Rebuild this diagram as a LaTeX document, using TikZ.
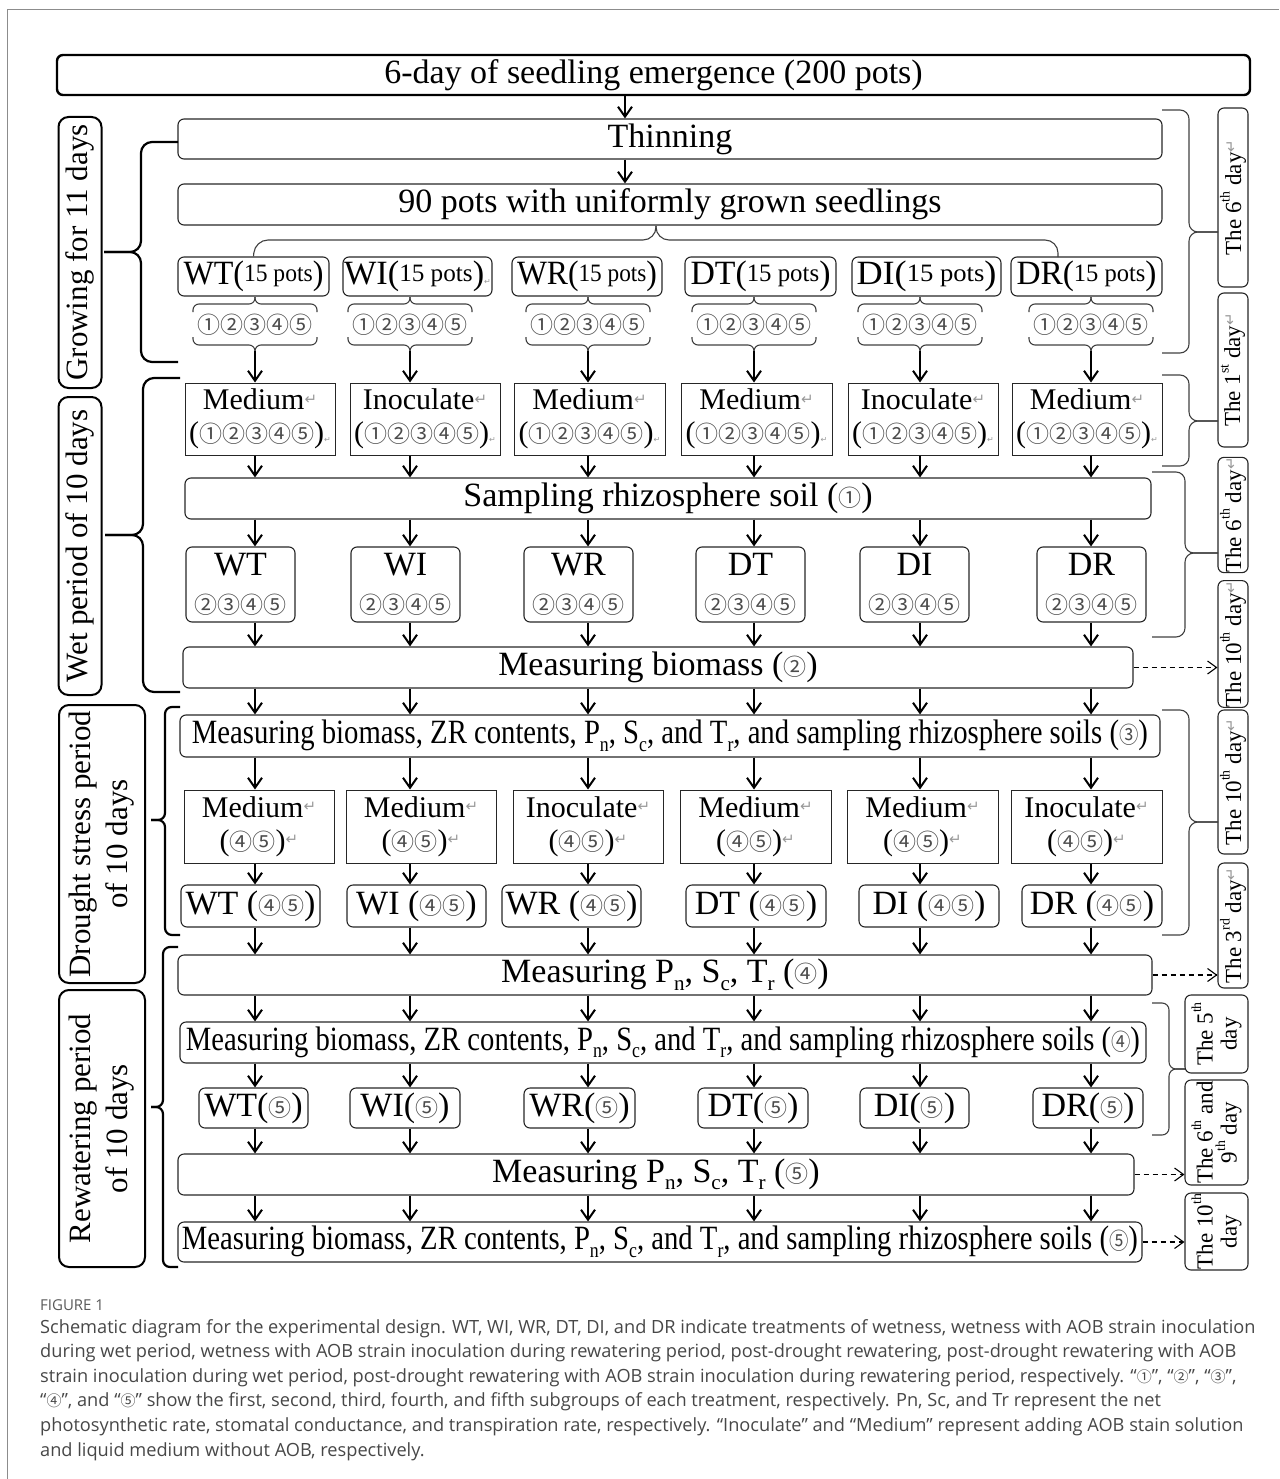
\documentclass[tikz,border=0pt]{standalone}
\usepackage{graphicx}
\usepackage{fontspec}
\setmainfont{Liberation Serif}
\newfontfamily\cjk{Noto Sans CJK SC}
\newfontfamily\capfont{Open Sans}
\newfontfamily\symfont{DejaVu Sans}
\usetikzlibrary{arrows.meta, positioning, calc}

\newcommand\fbig{\fontsize{34}{38}\selectfont}
\newcommand\fmid{\fontsize{30}{33}\selectfont}
\newcommand\flab{\fontsize{31}{37}\selectfont}
\newcommand\fday{\fontsize{23}{24}\selectfont}
\newcommand\cn[1]{{\cjk\fontsize{23}{23}\selectfont\color{black!70}#1}}
\newcommand\ccn[1]{{\cjk\fontsize{15}{15}\selectfont #1}}
\newcommand\ret{{\symfont\fontsize{15}{15}\selectfont\color{black!40}\raisebox{0.35em}{↵}}}
\newcommand\tret{{\symfont\fontsize{8}{8}\selectfont\color{black!40}↵}}
\newcommand\sbs[1]{\raisebox{-0.22em}{\scalebox{0.62}{#1}}}
\newcommand\sps[1]{\raisebox{0.5em}{\scalebox{0.6}{#1}}}
\newcommand\fitw[2]{\resizebox{#1}{\height}{#2}}
\newcommand\grp[1]{\fitw{140pt}{#1(\raisebox{3pt}{\fontsize{25}{25}\selectfont 15 pots})}}

\begin{document}
\begin{tikzpicture}[x=1pt, y=-1pt,
  box/.style={draw=black!85, line width=1.1pt, rounded corners=6pt, inner sep=0pt, align=center},
  sqbox/.style={draw=black!85, line width=1pt, inner sep=0pt, align=center},
  lblbox/.style={draw, line width=2pt, rounded corners=10pt, inner sep=0pt, rotate=90, align=center, font=\flab},
  daybox/.style={draw=black!85, line width=1.1pt, rounded corners=6pt, inner sep=0pt, rotate=90, align=center, font=\fday},
  arr/.style={-{Straight Barb[length=10pt,width=14pt]}, line width=2pt},
  dasharr/.style={-{Straight Barb[length=9pt,width=13pt]}, line width=1.1pt, dash pattern=on 5pt off 4pt},
  lbrace/.style={line width=2.2pt},
  rbrace/.style={line width=1.1pt, draw=black!75, rounded corners=9pt},
  sbrace/.style={line width=1.1pt, draw=black!75, rounded corners=6pt}]
  \useasboundingbox (0,0) rectangle (1279,1479);
  \draw[black!45, line width=1pt] (7,1479) -- (7,10) -- (1279,10);

  % column positions of the vertical arrows
  \coordinate (c0) at (625,0);
  \foreach \i/\x in {1/255,2/410,3/588,4/754,5/920,6/1091} \coordinate (c\i) at (\x,0);

  % growing period
  \node[box, draw=black, line width=2.4pt, minimum width=1193pt, minimum height=40pt, font=\fbig] (emerg) at (653.5,75) {6-day of seedling emergence (200 pots)};
  \node[box, minimum width=984pt, minimum height=40pt, font=\fbig] (thin) at (670,139) {Thinning};
  \node[box, minimum width=984pt, minimum height=41pt, font=\fbig] (pots) at (670,204.5) {90 pots with uniformly grown seedlings};
  \node[box, minimum width=151pt, minimum height=39pt, font=\fbig] (g1) at (253.5,276.5) {\grp{WT}};
  \node[box, minimum width=149pt, minimum height=39pt, font=\fbig] (g2) at (417.5,276.5) {\grp{WI}\tret};
  \node[box, minimum width=150pt, minimum height=39pt, font=\fbig] (g3) at (587,276.5) {\grp{WR}};
  \node[box, minimum width=151pt, minimum height=39pt, font=\fbig] (g4) at (760.5,276.5) {\grp{DT}};
  \node[box, minimum width=149pt, minimum height=39pt, font=\fbig] (g5) at (926.5,276.5) {\grp{DI}};
  \node[box, minimum width=151pt, minimum height=39pt, font=\fbig] (g6) at (1086.5,276.5) {\grp{DR}};
  \foreach \i/\x in {1/255,2/410,3/588,4/754,5/920,6/1091} {
    \node[inner sep=0pt] (n\i) at (\x,325) {\cn{①②③④⑤}};
    \coordinate (t\i) at (\x,351);
    % small braces round each group of subgroups
    \draw[sbrace] ({\x-62},312) -- ({\x-62},304) -- (\x,304) -- (\x,297);
    \draw[sbrace] ({\x+62},312) -- ({\x+62},304) -- (\x,304) -- (\x,297);
    \draw[sbrace] ({\x-62},337) -- ({\x-62},345) -- (\x,345) -- (t\i);
    \draw[sbrace] ({\x+62},337) -- ({\x+62},345) -- (\x,345) -- (t\i);
  }
  % brace from the 90 pots to the six treatments
  \draw[sbrace, rounded corners=13pt] (g1.north) -- (255,240) -- (656,240) -- (656,226);
  \draw[sbrace, rounded corners=13pt] (1058,257) -- (1058,240) -- (656,240) -- (656,226);

  % wet period
  \node[sqbox, minimum width=150pt, minimum height=72pt, font=\fmid] (m1) at (260,419) {Medium\ret\\(\cn{①②③④⑤})\tret};
  \node[sqbox, minimum width=150pt, minimum height=72pt, font=\fmid] (m2) at (425,419) {Inoculate\ret\\(\cn{①②③④⑤})\tret};
  \node[sqbox, minimum width=151pt, minimum height=72pt, font=\fmid] (m3) at (589.5,419) {Medium\ret\\(\cn{①②③④⑤})\tret};
  \node[sqbox, minimum width=151pt, minimum height=72pt, font=\fmid] (m4) at (756.5,419) {Medium\ret\\(\cn{①②③④⑤})\tret};
  \node[sqbox, minimum width=150pt, minimum height=72pt, font=\fmid] (m5) at (923,419) {Inoculate\ret\\(\cn{①②③④⑤})\tret};
  \node[sqbox, minimum width=150pt, minimum height=72pt, font=\fmid] (m6) at (1087,419) {Medium\ret\\(\cn{①②③④⑤})\tret};
  \node[box, minimum width=966pt, minimum height=41pt, font=\fbig] (samp) at (668,498.5) {Sampling rhizosphere soil (\cn{①})};
  \node[box, minimum width=109pt, minimum height=75pt, font=\fbig] (tr1) at (240.5,584.5) {WT\\\cn{②③④⑤}};
  \node[box, minimum width=109pt, minimum height=75pt, font=\fbig] (tr2) at (405.5,584.5) {WI\\\cn{②③④⑤}};
  \node[box, minimum width=109pt, minimum height=75pt, font=\fbig] (tr3) at (578.5,584.5) {WR\\\cn{②③④⑤}};
  \node[box, minimum width=109pt, minimum height=75pt, font=\fbig] (tr4) at (750.5,584.5) {DT\\\cn{②③④⑤}};
  \node[box, minimum width=109pt, minimum height=75pt, font=\fbig] (tr5) at (914.5,584.5) {DI\\\cn{②③④⑤}};
  \node[box, minimum width=109pt, minimum height=75pt, font=\fbig] (tr6) at (1091.5,584.5) {DR\\\cn{②③④⑤}};
  \node[box, minimum width=950pt, minimum height=41pt, font=\fbig] (mbio) at (658,667.5) {Measuring biomass (\cn{②})};

  % drought stress period
  \node[box, minimum width=980pt, minimum height=42pt, font=\fbig] (mall3) at (670,736) {\fitw{956pt}{Measuring biomass, ZR contents, P\sbs{n}, S\sbs{c}, and T\sbs{r}, and sampling rhizosphere soils (\cn{③})}};
  \node[sqbox, minimum width=150pt, minimum height=73pt, font=\fmid] (mm1) at (259,826.5) {Medium\ret\\(\cn{④⑤})\ret};
  \node[sqbox, minimum width=150pt, minimum height=73pt, font=\fmid] (mm2) at (421,826.5) {Medium\ret\\(\cn{④⑤})\ret};
  \node[sqbox, minimum width=150pt, minimum height=73pt, font=\fmid] (mm3) at (588,826.5) {Inoculate\ret\\(\cn{④⑤})\ret};
  \node[sqbox, minimum width=151pt, minimum height=73pt, font=\fmid] (mm4) at (755.5,826.5) {Medium\ret\\(\cn{④⑤})\ret};
  \node[sqbox, minimum width=151pt, minimum height=73pt, font=\fmid] (mm5) at (922.5,826.5) {Medium\ret\\(\cn{④⑤})\ret};
  \node[sqbox, minimum width=151pt, minimum height=73pt, font=\fmid] (mm6) at (1086.5,826.5) {Inoculate\ret\\(\cn{④⑤})\ret};
  \node[box, minimum width=139pt, minimum height=42pt, font=\fbig] (w1) at (250.5,906) {WT (\cn{④⑤})};
  \node[box, minimum width=139pt, minimum height=42pt, font=\fbig] (w2) at (416.5,906) {WI (\cn{④⑤})};
  \node[box, minimum width=139pt, minimum height=42pt, font=\fbig] (w3) at (571.5,906) {WR (\cn{④⑤})};
  \node[box, minimum width=140pt, minimum height=42pt, font=\fbig] (w4) at (756,906) {DT (\cn{④⑤})};
  \node[box, minimum width=140pt, minimum height=42pt, font=\fbig] (w5) at (929,906) {DI (\cn{④⑤})};
  \node[box, minimum width=140pt, minimum height=42pt, font=\fbig] (w6) at (1092,906) {DR (\cn{④⑤})};

  % rewatering period
  \node[box, minimum width=974pt, minimum height=40pt, font=\fbig] (mpn4) at (665,975) {Measuring P\sbs{n}, S\sbs{c}, T\sbs{r} (\cn{④})};
  \node[box, minimum width=966pt, minimum height=41pt, font=\fbig] (mall4) at (663,1042.5) {\fitw{954pt}{Measuring biomass, ZR contents, P\sbs{n}, S\sbs{c}, and T\sbs{r}, and sampling rhizosphere soils (\cn{④})}};
  \node[box, minimum width=109pt, minimum height=40pt, font=\fbig] (v1) at (253.5,1108) {WT(\cn{⑤})};
  \node[box, minimum width=110pt, minimum height=40pt, font=\fbig] (v2) at (405,1108) {WI(\cn{⑤})};
  \node[box, minimum width=111pt, minimum height=40pt, font=\fbig] (v3) at (579.5,1108) {WR(\cn{⑤})};
  \node[box, minimum width=110pt, minimum height=40pt, font=\fbig] (v4) at (753,1108) {DT(\cn{⑤})};
  \node[box, minimum width=109pt, minimum height=40pt, font=\fbig] (v5) at (914.5,1108) {DI(\cn{⑤})};
  \node[box, minimum width=110pt, minimum height=40pt, font=\fbig] (v6) at (1088,1108) {DR(\cn{⑤})};
  \node[box, minimum width=956pt, minimum height=41pt, font=\fbig] (mpn5) at (656,1174.5) {Measuring P\sbs{n}, S\sbs{c}, T\sbs{r} (\cn{⑤})};
  \node[box, minimum width=964pt, minimum height=40pt, font=\fbig] (mall5) at (660,1242) {\fitw{956pt}{Measuring biomass, ZR contents, P\sbs{n}, S\sbs{c}, and T\sbs{r}, and sampling rhizosphere soils (\cn{⑤})}};

  % period labels on the left, with their braces
  \node[lblbox, minimum width=271pt, minimum height=43pt] (grow) at (80,252.5) {Growing for 11 days};
  \node[lblbox, minimum width=298pt, minimum height=43pt] (wet) at (80,546) {Wet period of 10 days};
  \node[lblbox, minimum width=278pt, minimum height=86pt] (drought) at (102,844) {Drought stress period\\of 10 days};
  \node[lblbox, minimum width=277pt, minimum height=86pt] (rewat) at (102,1128.5) {Rewatering period\\of 10 days};
  \draw[lbrace, rounded corners=11pt] (178,142) -- (141,142) -- (141,252) -- (104,252);
  \draw[lbrace, rounded corners=11pt] (178,362) -- (141,362) -- (141,252) -- (104,252);
  \draw[lbrace, rounded corners=11pt] (180,378) -- (143,378) -- (143,535) -- (105,535);
  \draw[lbrace, rounded corners=11pt] (180,692) -- (143,692) -- (143,535) -- (105,535);
  \draw[lbrace, rounded corners=7pt] (180,707) -- (165,707) -- (165,820) -- (151,820);
  \draw[lbrace, rounded corners=7pt] (180,935) -- (165,935) -- (165,820) -- (151,820);
  \draw[lbrace, rounded corners=7pt] (178,947) -- (163,947) -- (163,1107) -- (151,1107);
  \draw[lbrace, rounded corners=7pt] (178,1267) -- (163,1267) -- (163,1107) -- (151,1107);

  % day labels on the right, with their brackets
  \node[daybox, minimum width=179pt, minimum height=30pt] (d1) at (1233,197.5) {The 6\sps{th} day\ret};
  \node[daybox, minimum width=154pt, minimum height=30pt] (d2) at (1233,370) {The 1\sps{st} day\ret};
  \node[daybox, minimum width=114pt, minimum height=30pt] (d3) at (1233,515) {The 6\sps{th} day\ret};
  \node[daybox, minimum width=124pt, minimum height=30pt] (d4) at (1233,644) {The 10\sps{th} day\ret};
  \node[daybox, minimum width=144pt, minimum height=30pt] (d5) at (1233,782) {The 10\sps{th} day\ret};
  \node[daybox, minimum width=125pt, minimum height=30pt] (d6) at (1233,925.5) {The 3\sps{rd} day\ret};
  \node[daybox, minimum width=78pt, minimum height=63pt] (d7) at (1216.5,1034) {The 5\sps{th}\\day};
  \node[daybox, minimum width=105pt, minimum height=63pt] (d8) at (1216.5,1132.5) {The 6\sps{th} and\\9\sps{th} day};
  \node[daybox, minimum width=77pt, minimum height=63pt] (d9) at (1216.5,1231.5) {The 10\sps{th}\\day};
  \draw[rbrace] (1162,110) -- (1189,110) -- (1189,232) -- (1218,232);
  \draw[rbrace] (1162,353) -- (1189,353) -- (1189,232) -- (1218,232);
  \draw[rbrace] (1162,375) -- (1189,375) -- (1189,421) -- (1218,421);
  \draw[rbrace] (1162,466) -- (1189,466) -- (1189,421) -- (1218,421);
  \draw[rbrace] (1152,472) -- (1185,472) -- (1185,553) -- (1218,553);
  \draw[rbrace] (1152,637) -- (1185,637) -- (1185,553) -- (1218,553);
  \draw[rbrace] (1162,710) -- (1189,710) -- (1189,822) -- (1218,822);
  \draw[rbrace] (1162,935) -- (1189,935) -- (1189,822) -- (1218,822);
  \draw[rbrace, rounded corners=7pt] (1152,1003) -- (1169,1003) -- (1169,1069) -- (1185,1069);
  \draw[rbrace, rounded corners=7pt] (1152,1135) -- (1169,1135) -- (1169,1069) -- (1185,1069);

  % arrows down the columns
  \draw[arr] (emerg.south -| c0) -- (thin.north -| c0);
  \draw[arr] (thin.south -| c0) -- (pots.north -| c0);
  \foreach \i in {1,...,6} {
    \draw[arr] (t\i) -- (m\i.north -| c\i);
    \draw[arr] (m\i.south -| c\i) -- (samp.north -| c\i);
    \draw[arr] (samp.south -| c\i) -- (tr\i.north -| c\i);
    \draw[arr] (tr\i.south -| c\i) -- (mbio.north -| c\i);
    \draw[arr] (mbio.south -| c\i) -- (mall3.north -| c\i);
    \draw[arr] (mall3.south -| c\i) -- (mm\i.north -| c\i);
    \draw[arr] (mm\i.south -| c\i) -- (w\i.north -| c\i);
    \draw[arr] (w\i.south -| c\i) -- (mpn4.north -| c\i);
    \draw[arr] (mpn4.south -| c\i) -- (mall4.north -| c\i);
    \draw[arr] (mall4.south -| c\i) -- (v\i.north -| c\i);
    \draw[arr] (v\i.south -| c\i) -- (mpn5.north -| c\i);
    \draw[arr] (mpn5.south -| c\i) -- (mall5.north -| c\i);
  }

  % dashed arrows to the day labels
  \draw[dasharr] (mbio.east) -- (mbio.east -| d4.north);
  \draw[dasharr] (mpn4.east) -- (mpn4.east -| d6.north);
  \draw[dasharr] (mpn5.east) -- (mpn5.east -| d8.north);
  \draw[dasharr] (mall5.east) -- (mall5.east -| d9.north);

  % caption
  \node[anchor=west, inner sep=0pt, font={\capfont\fontsize{15}{15}\selectfont}, text=black!65] (fig) at (40,1305) {FIGURE 1};
  \node[anchor=north west, inner sep=0pt, align=left, font={\capfont\fontsize{18.2}{24.6}\selectfont}, text=black!72] (cap) at (40,1319) {Schematic diagram for the experimental design. WT, WI, WR, DT, DI, and DR indicate treatments of wetness, wetness with AOB strain inoculation\\
during wet period, wetness with AOB strain inoculation during rewatering period, post-drought rewatering, post-drought rewatering with AOB\\
strain inoculation during wet period, post-drought rewatering with AOB strain inoculation during rewatering period, respectively. “\ccn{①}”, “\ccn{②}”, “\ccn{③}”,\\
“\ccn{④}”, and “\ccn{⑤}” show the first, second, third, fourth, and fifth subgroups of each treatment, respectively. Pn, Sc, and Tr represent the net\\
photosynthetic rate, stomatal conductance, and transpiration rate, respectively. “Inoculate” and “Medium” represent adding AOB stain solution\\
and liquid medium without AOB, respectively.};
\end{tikzpicture}
\end{document}
